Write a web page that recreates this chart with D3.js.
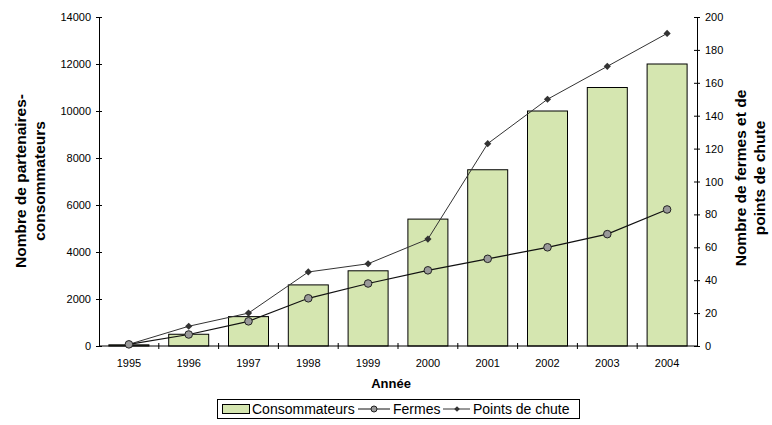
<!DOCTYPE html>
<html>
<head>
<meta charset="utf-8">
<script src="https://cdn.jsdelivr.net/npm/d3@7"></script>
<style>
  body { margin: 0; background: #fff; }
  svg text { font-family: "Liberation Sans", Arial, sans-serif; fill: #000; }
</style>
</head>
<body>
<svg id="viz"></svg>
<script>
// ----------------------------------------------------------------------------------------------------------------
// DATA

var years = ["1995", "1996", "1997", "1998", "1999", "2000", "2001", "2002", "2003", "2004"];
var consommateurs = [50, 500, 1250, 2600, 3200, 5400, 7500, 10000, 11000, 12000];
var fermes = [1, 7, 15, 29, 38, 46, 53, 60, 68, 83];
var pointsDeChute = [1, 12, 20, 45, 50, 65, 123, 150, 170, 190];
var leftTicks = [0, 2000, 4000, 6000, 8000, 10000, 12000, 14000];
var rightTicks = [0, 20, 40, 60, 80, 100, 120, 140, 160, 180, 200];

// ----------------------------------------------------------------------------------------------------------------
// INITIAL SETUP

var w = 772;
var h = 425;
var viz = d3.select("#viz").attr("width", w).attr("height", h);

var plotLeft = 99, plotRight = 697, plotTop = 17, plotBottom = 346;

var x = d3.scaleBand().domain(years).range([plotLeft, plotRight]).paddingInner(0).paddingOuter(0);
var yL = d3.scaleLinear().domain([0, 14000]).range([plotBottom, plotTop]);
var yR = d3.scaleLinear().domain([0, 200]).range([plotBottom, plotTop]);
var barW = 40;

// ----------------------------------------------------------------------------------------------------------------
// CHART

// bars
viz.selectAll("rect.bar")
  .data(consommateurs)
  .enter()
  .append("rect")
  .attr("class", "bar")
  .attr("x", function(d, i) { return x(years[i]) + (x.bandwidth() - barW) / 2; })
  .attr("y", function(d) { return yL(d); })
  .attr("width", barW)
  .attr("height", function(d) { return plotBottom - yL(d); })
  .attr("fill", "#d5e6b0")
  .attr("stroke", "#000")
  .attr("stroke-width", 1);

// axes
var axL = d3.axisLeft(yL).tickValues(leftTicks).tickSize(5).tickSizeOuter(0).tickFormat(d3.format("d"));
var axR = d3.axisRight(yR).tickValues(rightTicks).tickSize(5).tickSizeOuter(0).tickFormat(d3.format("d"));

var gL = viz.append("g").attr("transform", "translate(" + plotLeft + ",0)").call(axL);
var gR = viz.append("g").attr("transform", "translate(" + plotRight + ",0)").call(axR);
gL.selectAll(".tick line").attr("x1", 3).attr("x2", -3);
gR.selectAll(".tick line").attr("x1", -3).attr("x2", 3);
gL.selectAll(".tick text").attr("x", -8);
gR.selectAll(".tick text").attr("x", 8);

// x axis
var gX = viz.append("g").attr("transform", "translate(0," + plotBottom + ")");
gX.append("line").attr("x1", plotLeft).attr("x2", plotRight).attr("stroke", "#000");
gX.selectAll("line.tk")
  .data(years.slice(1))
  .enter()
  .append("line")
  .attr("class", "tk")
  .attr("x1", function(d) { return x(d); })
  .attr("x2", function(d) { return x(d); })
  .attr("y1", -3).attr("y2", 3)
  .attr("stroke", "#000");
gX.selectAll("text")
  .data(years)
  .enter()
  .append("text")
  .attr("x", function(d) { return x(d) + x.bandwidth() / 2; })
  .attr("y", 21)
  .attr("text-anchor", "middle")
  .attr("font-size", 11)
  .text(function(d) { return d; });

viz.selectAll(".domain").attr("stroke", "#000");
viz.selectAll(".tick line").attr("stroke", "#000");
viz.selectAll(".tick text").attr("font-size", 11).attr("font-family", "Liberation Sans, Arial, sans-serif").attr("fill", "#000");

// lines
var cx = function(d, i) { return x(years[i]) + x.bandwidth() / 2; };

var lineP = d3.line().x(cx).y(function(d) { return yR(d); });
viz.append("path").datum(pointsDeChute).attr("d", lineP).attr("fill", "none").attr("stroke", "#333").attr("stroke-width", 1);
viz.append("path").datum(fermes).attr("d", lineP).attr("fill", "none").attr("stroke", "#111").attr("stroke-width", 1.2);

// diamonds: a square turned 45 degrees
var square = d3.symbol().type(d3.symbolSquare).size(26);
viz.selectAll("path.pdc")
  .data(pointsDeChute)
  .enter()
  .append("path")
  .attr("class", "pdc")
  .attr("d", square)
  .attr("transform", function(d, i) { return "translate(" + cx(d, i) + "," + yR(d) + ") rotate(45)"; })
  .attr("fill", "#333");

viz.selectAll("circle.fer")
  .data(fermes)
  .enter()
  .append("circle")
  .attr("class", "fer")
  .attr("cx", cx)
  .attr("cy", function(d) { return yR(d); })
  .attr("r", 3.8)
  .attr("fill", "#999")
  .attr("stroke", "#222")
  .attr("stroke-width", 1);

// axis titles
viz.append("text")
  .attr("transform", "translate(26,181) rotate(-90)")
  .attr("text-anchor", "middle")
  .attr("font-size", 15.5).attr("font-weight", "bold")
  .selectAll("tspan")
  .data(["Nombre de partenaires-", "consommateurs"])
  .enter()
  .append("tspan")
  .attr("x", 0)
  .attr("dy", function(d, i) { return i ? 19 : 0; })
  .text(function(d) { return d; });

viz.append("text")
  .attr("transform", "translate(746,178) rotate(-90)")
  .attr("text-anchor", "middle")
  .attr("font-size", 15.5).attr("font-weight", "bold")
  .selectAll("tspan")
  .data(["Nombre de fermes et de", "points de chute"])
  .enter()
  .append("tspan")
  .attr("x", 0)
  .attr("dy", function(d, i) { return i ? 19 : 0; })
  .text(function(d) { return d; });

viz.append("text")
  .attr("x", 391).attr("y", 388)
  .attr("text-anchor", "middle")
  .attr("font-size", 13).attr("font-weight", "bold")
  .text("Année");

// ----------------------------------------------------------------------------------------------------------------
// LEGEND

var lg = viz.append("g");
lg.append("rect").attr("x", 217.5).attr("y", 399.5).attr("width", 362).attr("height", 19)
  .attr("fill", "#fff").attr("stroke", "#000");
lg.append("rect").attr("x", 222.5).attr("y", 404.5).attr("width", 27).attr("height", 9)
  .attr("fill", "#d5e6b0").attr("stroke", "#000");
lg.append("text").attr("x", 252).attr("y", 414).attr("font-size", 14).text("Consommateurs");
lg.append("line").attr("x1", 358).attr("x2", 390).attr("y1", 409).attr("y2", 409).attr("stroke", "#111");
lg.append("circle").attr("cx", 374).attr("cy", 409).attr("r", 3).attr("fill", "#999").attr("stroke", "#222");
lg.append("text").attr("x", 393).attr("y", 414).attr("font-size", 14).text("Fermes");
lg.append("line").attr("x1", 443).attr("x2", 470).attr("y1", 409).attr("y2", 409).attr("stroke", "#333");
lg.append("path").attr("d", d3.symbol().type(d3.symbolSquare).size(16)).attr("transform", "translate(457,409) rotate(45)").attr("fill", "#333");
lg.append("text").attr("x", 473).attr("y", 414).attr("font-size", 14).text("Points de chute");
</script>
</body>
</html>
